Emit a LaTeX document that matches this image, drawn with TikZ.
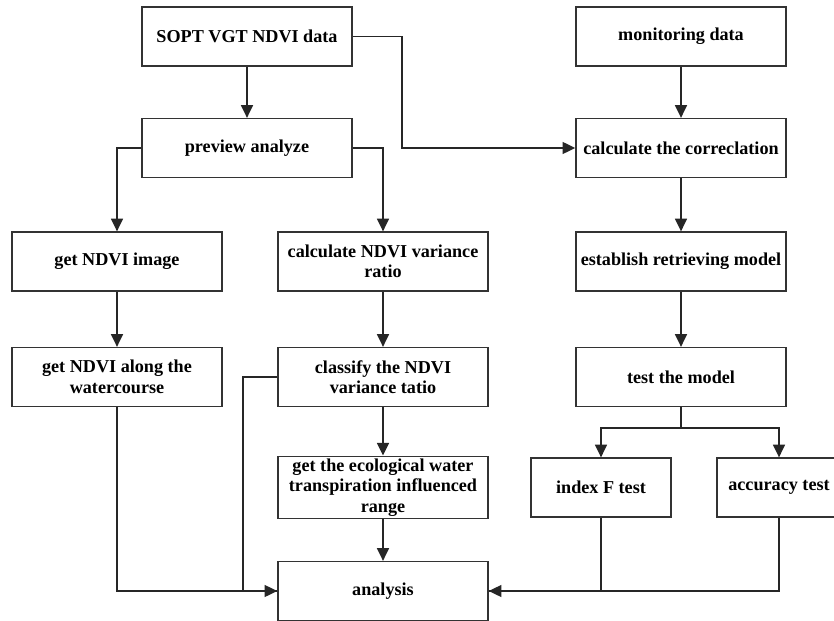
\documentclass[tikz,border=0pt]{standalone}
\usepackage{fontspec}
\setmainfont{Liberation Serif}
\usetikzlibrary{arrows.meta}

\tikzset{
    stepbox/.style={draw=black!80, line width=1.4pt, minimum width=6.3cm, minimum height=1.76cm,
        align=center, inner sep=2pt, font=\fontsize{15.5}{17.5}\selectfont\bfseries},
    flow/.style={draw=black!85, line width=1.4pt, -{Triangle[length=0.38cm, width=0.36cm]}},
    link/.style={draw=black!85, line width=1.4pt}
}

\begin{document}
\begin{tikzpicture}[x=0.03cm, y=-0.03cm]
            \useasboundingbox (0, 0) rectangle (834, 621);

            \node[stepbox] (sopt) at (247, 36.5) {SOPT VGT NDVI data};
            \node[stepbox] (monit) at (681, 36.5) {monitoring data};
            \node[stepbox] (prev) at (247, 148) {preview analyze};
            \node[stepbox] (corr) at (681, 148) {calculate the correclation};
            \node[stepbox] (img) at (117, 261.5) {get NDVI image};
            \node[stepbox] (varr) at (383, 261.5) {calculate NDVI variance\\ratio};
            \node[stepbox] (estab) at (681, 261.5) {establish retrieving model};
            \node[stepbox] (along) at (117, 377) {get NDVI along the\\watercourse};
            \node[stepbox] (classify) at (383, 377) {classify the NDVI\\variance tatio};
            \node[stepbox] (test) at (681, 377) {test the model};
            \node[stepbox] (eco) at (383, 487.5) {get the ecological water\\transpiration influenced\\range};
            \node[stepbox, minimum width=4.2cm] (indexf) at (601, 487.5) {index F test};
            \node[stepbox, minimum width=3.72cm] (acc) at (779, 487.5) {accuracy test};
            \node[stepbox] (ana) at (383, 591) {analysis};

            \draw[flow] (sopt) -- (prev);
            \draw[flow] (sopt.east) -- ++(49, 0) |- (corr.west);
            \draw[flow] (prev.west) -| (img.north);
            \draw[flow] (prev.east) -| (varr.north);
            \draw[flow] (monit) -- (corr);
            \draw[flow] (corr) -- (estab);
            \draw[flow] (estab) -- (test);
            \draw[flow] (img) -- (along);
            \draw[flow] (varr) -- (classify);
            \draw[flow] (classify) -- (eco);
            \draw[flow] (eco) -- (ana);

            \draw[link] (test.south) -- ++(0, 21) coordinate (fork);
            \draw[flow] (fork) -| (indexf.north);
            \draw[flow] (fork) -| (acc.north);

            \draw[flow] (along.south) |- (ana.west);
            \draw[link] (classify.west) -- ++(-34, 0) |- (ana.west);
            \draw[flow] (indexf.south) |- (ana.east);
            \draw[link] (acc.south) |- (ana.east);
        \end{tikzpicture}
\end{document}
